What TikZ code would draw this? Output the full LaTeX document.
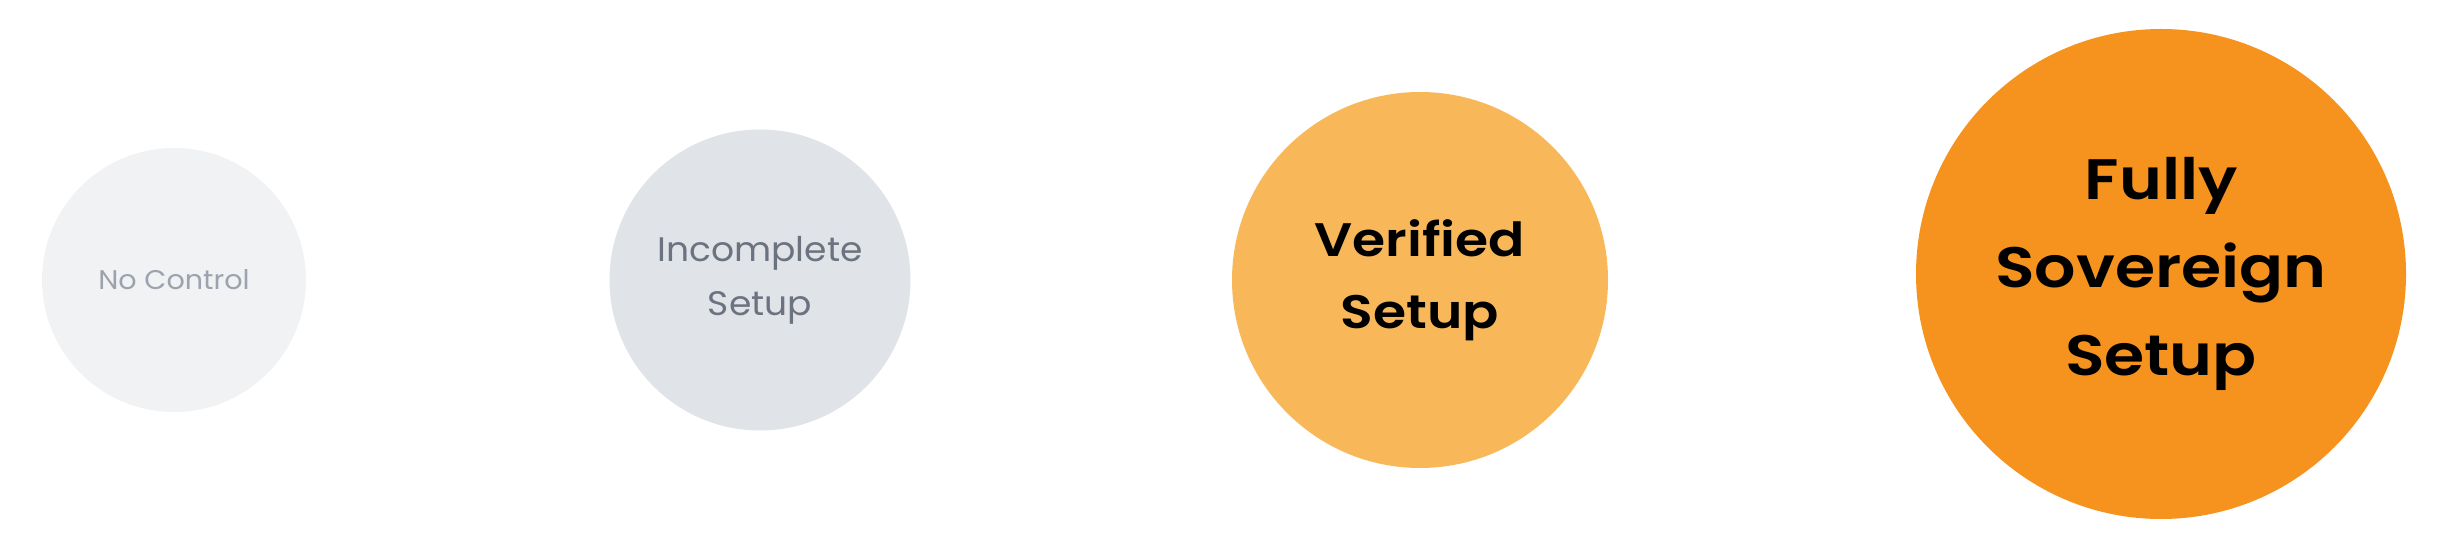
\documentclass[tikz,border=0pt]{standalone}
\usepackage{fontspec}
\setmainfont{Poppins}
\newfontfamily\stagefont{Poppins}[FakeStretch=1.06]
\newfontfamily\stageboldfont{Poppins SemiBold}[FakeStretch=1.14]
\definecolor{stageA}{HTML}{F1F2F4}
\definecolor{stageB}{HTML}{E0E3E7}
\definecolor{stageC}{HTML}{F8B85A}
\definecolor{stageD}{HTML}{F5931E}
\definecolor{textA}{HTML}{9CA3AF}
\definecolor{textB}{HTML}{6B7280}
\tikzset{
  stage/.style={circle,inner sep=0pt,align=center},
}
\begin{document}
\begin{tikzpicture}[x=1pt,y=1pt]
    \useasboundingbox (0,0) rectangle (2449,551);
    \node[stage,fill=stageA,minimum size=264,text=textA,font=\stagefont\fontsize{27}{54}\selectfont] at (174,271) (nocontrol) {No Control};
    \node[stage,fill=stageB,minimum size=301,text=textB,font=\stagefont\fontsize{34}{54}\selectfont] at (760,271) (incomplete) {Incomplete\\Setup};
    \node[stage,fill=stageC,minimum size=376,font=\stageboldfont\fontsize{47}{72}\selectfont] at (1420,271) (verified) {Verified\\Setup};
    \node[stage,fill=stageD,minimum size=490,font=\stageboldfont\fontsize{57}{88}\selectfont] at (2161,277) (sovereign) {Fully\\Sovereign\\Setup};
\end{tikzpicture}
\end{document}
